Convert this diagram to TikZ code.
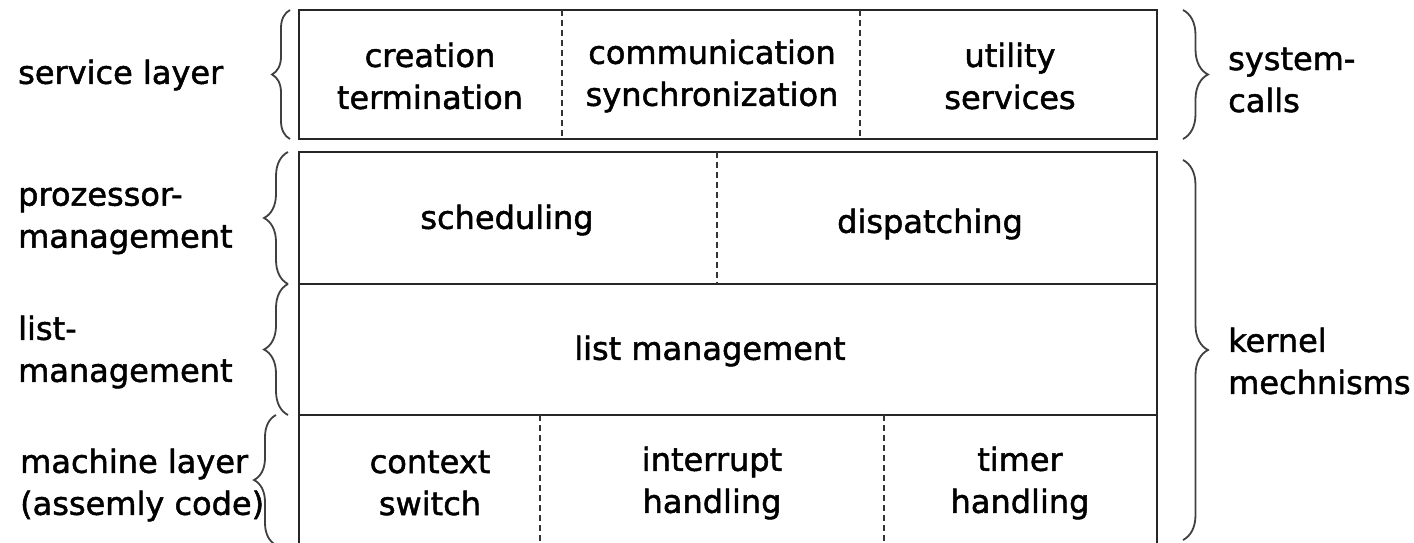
\documentclass[tikz,border=0pt]{standalone}
\usepackage{fontspec}
\setmainfont{DejaVu Sans}[FakeBold=1.5]
\usetikzlibrary{decorations.pathreplacing}
\begin{document}
\begin{tikzpicture}[x=1pt,y=-1pt,
  frame/.style={draw=black!85, line width=2.4pt},
  divider/.style={draw=black!80, line width=1.2pt, dash pattern=on 6pt off 4pt},
  lbl/.style={font=\fontsize{32}{42}\selectfont, align=left, anchor=west, inner sep=0pt},
  cell/.style={font=\fontsize{32}{42}\selectfont, align=center, inner sep=0pt},
  bracemark/.style={draw=black!75, line width=1.8pt, decorate, decoration={brace, amplitude=#1}},
]
\useasboundingbox (0,0) rectangle (1414,543);

% service layer frame
\draw[frame] (299,10) rectangle (1157,139);
\draw[divider] (562,10) -- (562,139);
\draw[divider] (860,10) -- (860,139);

% kernel frame (open at the bottom)
\draw[frame] (299,550) -- (299,152) -- (1157,152) -- (1157,550);
\draw[frame] (299,284) -- (1157,284);
\draw[frame] (299,415) -- (1157,415);
\draw[divider] (717,152) -- (717,284);
\draw[divider] (540,415) -- (540,550);
\draw[divider] (884,415) -- (884,550);

% cell texts
\node[cell] (create) at (430,76) {creation\\termination};
\node[cell] (comm)   at (712,76) {communication\\synchronization};
\node[cell] (util)   at (1010,76) {utility\\services};
\node[cell] (sched)  at (507,220) {scheduling};
\node[cell] (disp)   at (930,224) {dispatching};
\node[cell] (list)   at (710,351) {list management};
\node[cell] (ctx)    at (430,483) {context\\switch};
\node[cell] (intr)   at (712,483) {interrupt\\handling};
\node[cell] (timer)  at (1020,483) {timer\\handling};

% left labels
\node[lbl] (svc)  at (18,75)  {service layer};
\node[lbl] (proc) at (18,221) {prozessor-\\management};
\node[lbl] (lm)   at (18,352) {list-\\management};
\node[lbl] (mach) at (20,485) {machine layer\\(assemly code)};

% right labels
\node[lbl] (sys)  at (1228,80)  {system-\\calls};
\node[lbl] (kern) at (1228,361) {kernel\\mechnisms};

% braces
\draw[bracemark=18] (290,139) -- (290,10);
\draw[bracemark=24] (288,284) -- (288,152);
\draw[bracemark=24] (288,415) -- (288,284);
\draw[bracemark=22] (276,545) -- (276,415);
\draw[bracemark=25] (1183,10) -- (1183,139);
\draw[bracemark=25] (1183,160) -- (1183,540);
\end{tikzpicture}
\end{document}
